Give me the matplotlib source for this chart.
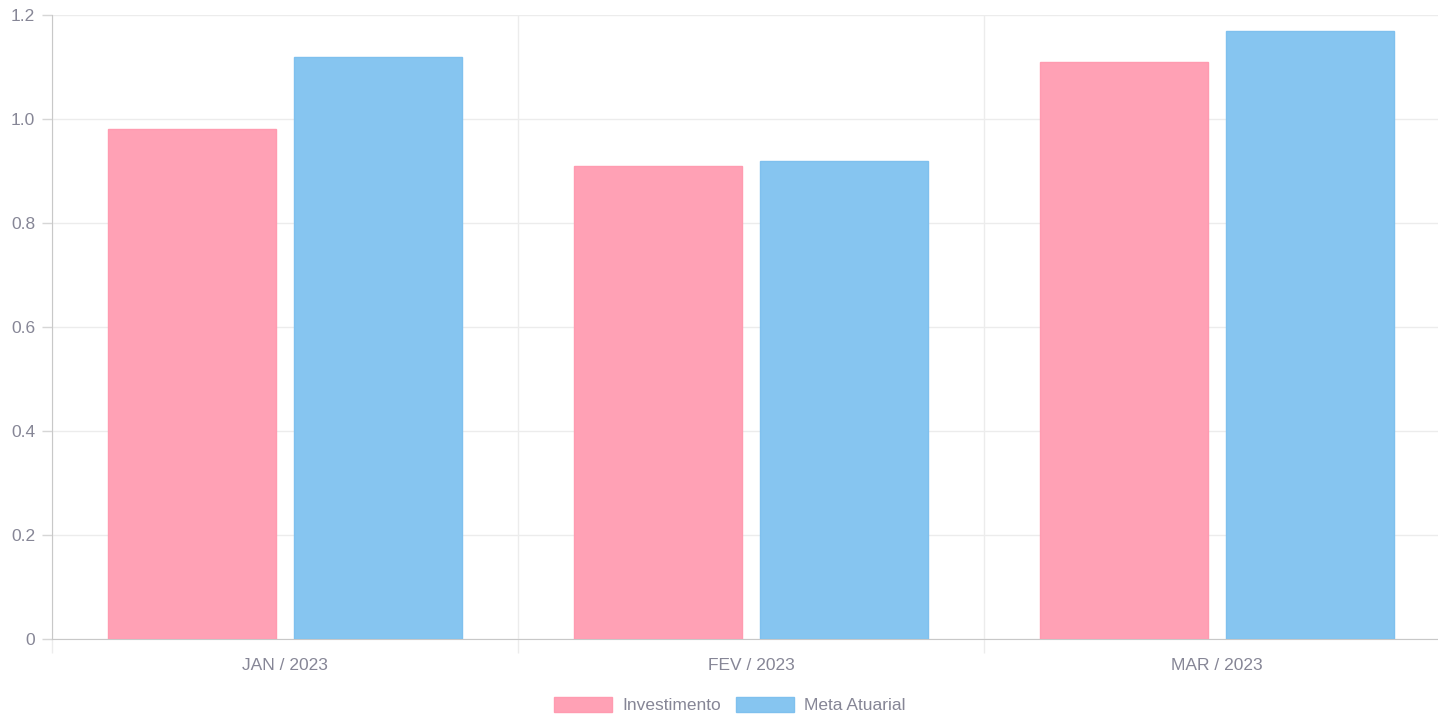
import matplotlib.pyplot as plt
import numpy as np

plt.rcParams['font.family'] = ['Liberation Sans', 'DejaVu Sans']

meses = ['JAN / 2023', 'FEV / 2023', 'MAR / 2023']
investimento = [0.98, 0.91, 1.11]
meta_atuarial = [1.12, 0.92, 1.17]

cor_inv = '#ffa1b5'
cor_meta = '#86c5f0'
cor_texto = '#868696'
cor_grade = '#ececec'

W, H = 1438, 719
fig = plt.figure(figsize=(W / 100, H / 100), dpi=100)
ax = fig.add_axes([52 / W, 80 / H, 1398 / W, 624 / H])

x = np.arange(len(meses))
largura = 0.36
ax.bar(x - 0.2, investimento, largura, color=cor_inv, edgecolor='#ff9bb0', linewidth=1, label='Investimento', zorder=3)
ax.bar(x + 0.2, meta_atuarial, largura, color=cor_meta, edgecolor='#7fc0ee', linewidth=1, label='Meta Atuarial', zorder=3)

ax.set_xlim(-0.5, len(meses) - 0.5)
ax.set_ylim(0, 1.2)
ax.set_yticks(np.arange(0, 1.21, 0.2))
ax.set_yticklabels(['0', '0.2', '0.4', '0.6', '0.8', '1.0', '1.2'])
ax.set_xticks(x)
ax.set_xticklabels(meses)
ax.set_xticks(np.arange(-0.5, len(meses), 1), minor=True)

ax.tick_params(axis='x', which='major', length=0, pad=14, labelsize=12.5, labelcolor=cor_texto)
ax.tick_params(axis='x', which='minor', length=10, width=1, color=cor_grade)
ax.tick_params(axis='y', length=7, width=1, color='#d6d6d6', pad=5, labelsize=12.5, labelcolor=cor_texto)

ax.grid(axis='y', color=cor_grade, linewidth=1, zorder=0)
ax.grid(axis='x', which='minor', color=cor_grade, linewidth=1, zorder=0)

for lado in ['top', 'right']:
    ax.spines[lado].set_visible(False)
for lado in ['left', 'bottom']:
    ax.spines[lado].set_color('#c8c8c8')

leg = fig.legend(loc='center', bbox_to_anchor=(730 / W, 1 - 705 / H), ncol=2, frameon=False,
                 fontsize=12.5, handlelength=3.3, handleheight=0.95, columnspacing=0.9,
                 handletextpad=0.6, labelcolor=cor_texto)

fig.savefig('out.png', dpi=100)
